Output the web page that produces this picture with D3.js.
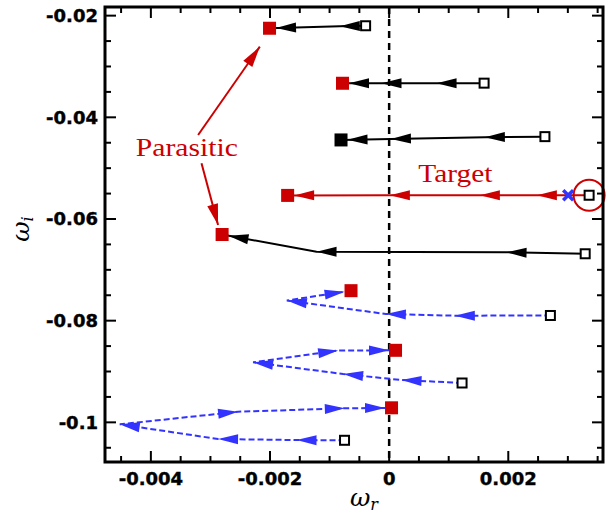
<!DOCTYPE html>
<html>
<head>
<meta charset="utf-8">
<script src="https://cdn.jsdelivr.net/npm/d3@7"></script>
<style>
  html, body { margin: 0; padding: 0; background: #fff; }
  svg { display: block; }
</style>
</head>
<body>
<svg id="chart" width="611" height="515"></svg>
<script>
// Axis ticks
const xTicks = [-0.004, -0.002, 0, 0.002];
const xTickLabels = ["-0.004", "-0.002", "0", "0.002"];
const yTicks = [-0.02, -0.04, -0.06, -0.08, -0.1];
const yTickLabels = ["-0.02", "-0.04", "-0.06", "-0.08", "-0.1"];

// Eigenvalue trajectories [omega_r, omega_i], from start (open square) to end (filled square)
const branch1 = [[-0.000395, -0.02199], [-0.000828, -0.02210], [-0.002008, -0.02248]];
const branch2 = [[0.001594, -0.03328], [0.000796, -0.03330], [-0.000128, -0.03330], [-0.000783, -0.03330]];
const branch3 = [[0.002615, -0.04380], [0.001607, -0.04392], [0.000030, -0.04426], [-0.000808, -0.04445]];
const targetBranch = [[0.003357, -0.05533], [0.002480, -0.05533], [0.001523, -0.05533], [0.000012, -0.05533], [-0.001704, -0.05536]];
const branch5 = [[0.003291, -0.06684], [0.001971, -0.06655], [-0.001219, -0.06643], [-0.002804, -0.06305]];
const branch6 = [[0.002707, -0.07898], [0.001103, -0.07902], [-0.000055, -0.07869], [-0.001718, -0.07603], [-0.000640, -0.07410]];
const branch7 = [[0.001224, -0.09226], [0.000208, -0.09167], [-0.000772, -0.09049], [-0.002284, -0.08819], [-0.000856, -0.08587], [0.000107, -0.08583]];
const branch8 = [[-0.000749, -0.10353], [-0.001555, -0.10348], [-0.002872, -0.10328], [-0.004522, -0.10039], [-0.002536, -0.09791], [-0.000744, -0.09724], [0.000040, -0.09714]];

// Marked points
const targetStart = [0.003357, -0.05533];
const crossPoint = [0.003006, -0.05533];

// Annotation labels and pointer arrows
const parasiticLabel = [-0.003397, -0.04754];
const targetLabel = [0.001112, -0.05266];
const parasiticArrows = [
  [[-0.003207, -0.04347], [-0.002171, -0.02610]],
  [[-0.003150, -0.04904], [-0.002872, -0.06118]]
];

const RED = "#cc0000";
const BLUE = "#3333ff";

const svg = d3.select("#chart");
const plotL = 105, plotR = 603, plotT = 7, plotB = 462;

const x = d3.scaleLinear().domain([-0.00477, 0.00359]).range([plotL, plotR]);
const y = d3.scaleLinear().domain([-0.1078, -0.0183]).range([plotB, plotT]);

// Zero line
svg.append("line")
  .attr("x1", x(0)).attr("x2", x(0))
  .attr("y1", plotT).attr("y2", plotB)
  .attr("stroke", "#000").attr("stroke-width", 2.5)
  .attr("stroke-dasharray", "7,5");

// Series definitions
const series = [
  { pts: branch1, color: "#000", dash: null, end: RED },
  { pts: branch2, color: "#000", dash: null, end: RED },
  { pts: branch3, color: "#000", dash: null, end: "#000" },
  { pts: targetBranch, color: RED, dash: null, end: RED },
  { pts: branch5, color: "#000", dash: null, end: RED },
  { pts: branch6, color: BLUE, dash: "6,3", end: RED },
  { pts: branch7, color: BLUE, dash: "6,3", end: RED },
  { pts: branch8, color: BLUE, dash: "6,3", end: RED }
];

const line = d3.line().x(d => x(d[0])).y(d => y(d[1]));

function arrowHead(g, x0, y0, x1, y1, len, hw, color, back) {
  // triangle with its tip at (x1,y1), pointing along (x0,y0)->(x1,y1)
  const dx = x1 - x0, dy = y1 - y0;
  const L = Math.hypot(dx, dy) || 1;
  const ux = dx / L, uy = dy / L;
  const tx = x1 - ux * (back || 0), ty = y1 - uy * (back || 0);
  const bx = tx - ux * len, by = ty - uy * len;
  const px = -uy * hw, py = ux * hw;
  g.append("path")
    .attr("d", `M${tx},${ty}L${bx + px},${by + py}L${bx - px},${by - py}Z`)
    .attr("fill", color).attr("stroke", "none");
}

const gLines = svg.append("g");
series.forEach(s => {
  gLines.append("path")
    .attr("d", line(s.pts))
    .attr("fill", "none")
    .attr("stroke", s.color)
    .attr("stroke-width", 2)
    .attr("stroke-dasharray", s.dash);
  for (let i = 1; i < s.pts.length; i++) {
    const last = i === s.pts.length - 1;
    arrowHead(gLines,
      x(s.pts[i - 1][0]), y(s.pts[i - 1][1]),
      x(s.pts[i][0]), y(s.pts[i][1]),
      20, 5, s.color, last ? 6.5 : 0);
  }
});

// Start (open) and end (filled) squares
series.forEach(s => {
  const p0 = s.pts[0], p1 = s.pts[s.pts.length - 1];
  gLines.append("rect")
    .attr("x", x(p0[0]) - 4.5).attr("y", y(p0[1]) - 4.5)
    .attr("width", 9).attr("height", 9)
    .attr("fill", "#fff").attr("stroke", "#000").attr("stroke-width", 2);
  gLines.append("rect")
    .attr("x", x(p1[0]) - 6.5).attr("y", y(p1[1]) - 6.5)
    .attr("width", 13).attr("height", 13)
    .attr("fill", s.end);
});

// Circle around the target start
svg.append("circle")
  .attr("cx", x(targetStart[0])).attr("cy", y(targetStart[1]))
  .attr("r", 15.5)
  .attr("fill", "none").attr("stroke", RED).attr("stroke-width", 2);

// Blue cross
{
  const cx = x(crossPoint[0]), cy = y(crossPoint[1]), h = 5;
  svg.append("path")
    .attr("d", `M${cx - h},${cy - h}L${cx + h},${cy + h}M${cx - h},${cy + h}L${cx + h},${cy - h}`)
    .attr("stroke", BLUE).attr("stroke-width", 3.5).attr("fill", "none");
}

// Annotations
const annot = svg.append("g");
parasiticArrows.forEach(a => {
  annot.append("line")
    .attr("x1", x(a[0][0])).attr("y1", y(a[0][1]))
    .attr("x2", x(a[1][0])).attr("y2", y(a[1][1]))
    .attr("stroke", RED).attr("stroke-width", 2);
  arrowHead(annot, x(a[0][0]), y(a[0][1]), x(a[1][0]), y(a[1][1]), 21, 5.5, RED, 0);
});
annot.append("text")
  .attr("x", x(parasiticLabel[0])).attr("y", y(parasiticLabel[1]))
  .attr("text-anchor", "middle")
  .attr("font-family", "Liberation Serif, serif")
  .attr("font-size", 26).attr("fill", RED)
  .attr("textLength", 102).attr("lengthAdjust", "spacingAndGlyphs")
  .text("Parasitic");
annot.append("text")
  .attr("x", x(targetLabel[0])).attr("y", y(targetLabel[1]))
  .attr("text-anchor", "middle")
  .attr("font-family", "Liberation Serif, serif")
  .attr("font-size", 26).attr("fill", RED)
  .attr("textLength", 74).attr("lengthAdjust", "spacingAndGlyphs")
  .text("Target");

// Frame and ticks
const frame = svg.append("g");
frame.append("rect")
  .attr("x", plotL).attr("y", plotT)
  .attr("width", plotR - plotL).attr("height", plotB - plotT)
  .attr("fill", "none").attr("stroke", "#000").attr("stroke-width", 3);

const xMinor = d3.range(-0.0045, 0.00355, 0.0005).filter(v => !xTicks.some(t => Math.abs(t - v) < 1e-9));
const yMinor = d3.range(-0.105, -0.0184, 0.005).filter(v => !yTicks.some(t => Math.abs(t - v) < 1e-9));

function xTick(v, len) {
  frame.append("line").attr("x1", x(v)).attr("x2", x(v)).attr("y1", plotB).attr("y2", plotB - len)
    .attr("stroke", "#000").attr("stroke-width", 2);
  frame.append("line").attr("x1", x(v)).attr("x2", x(v)).attr("y1", plotT).attr("y2", plotT + len)
    .attr("stroke", "#000").attr("stroke-width", 2);
}
function yTick(v, len) {
  frame.append("line").attr("y1", y(v)).attr("y2", y(v)).attr("x1", plotL).attr("x2", plotL + len)
    .attr("stroke", "#000").attr("stroke-width", 2);
  frame.append("line").attr("y1", y(v)).attr("y2", y(v)).attr("x1", plotR).attr("x2", plotR - len)
    .attr("stroke", "#000").attr("stroke-width", 2);
}
xTicks.forEach(v => xTick(v, 11));
xMinor.forEach(v => xTick(v, 6));
yTicks.forEach(v => yTick(v, 11));
yMinor.forEach(v => yTick(v, 6));

// Tick labels
xTicks.forEach((v, i) => {
  svg.append("text")
    .attr("x", x(v)).attr("y", 485)
    .attr("text-anchor", "middle")
    .attr("font-family", "DejaVu Sans, sans-serif").attr("font-weight", "bold")
    .attr("font-size", 18)
    .attr("stroke", "#000").attr("stroke-width", 0.4)
    .text(xTickLabels[i]);
});
yTicks.forEach((v, i) => {
  svg.append("text")
    .attr("x", 98).attr("y", y(v))
    .attr("dy", "0.36em")
    .attr("text-anchor", "end")
    .attr("font-family", "DejaVu Sans, sans-serif").attr("font-weight", "bold")
    .attr("font-size", 18)
    .attr("stroke", "#000").attr("stroke-width", 0.4)
    .text(yTickLabels[i]);
});

// Axis titles
const xt = svg.append("text")
  .attr("x", 364).attr("y", 506)
  .attr("text-anchor", "middle")
  .attr("font-family", "DejaVu Serif, serif").attr("font-style", "italic")
  .attr("font-size", 25);
xt.append("tspan").text("ω");
xt.append("tspan").attr("font-size", 16).attr("dy", 4).text("r");

const yt = svg.append("text")
  .attr("transform", "translate(29,229) rotate(-90)")
  .attr("text-anchor", "middle")
  .attr("font-family", "DejaVu Serif, serif").attr("font-style", "italic")
  .attr("font-size", 25);
yt.append("tspan").text("ω");
yt.append("tspan").attr("font-size", 16).attr("dy", 4).text("i");
</script>
</body>
</html>
